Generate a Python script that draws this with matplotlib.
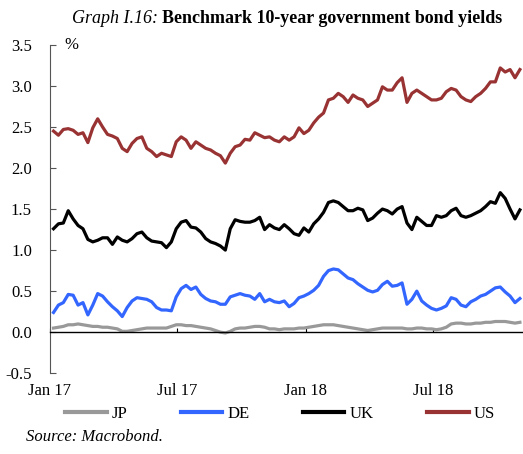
import matplotlib; matplotlib.use("Agg")
import matplotlib.pyplot as plt
import matplotlib.dates as mdates
import pandas as pd

plt.rcParams['font.family'] = ['Liberation Serif', 'DejaVu Serif']

# weekly (Friday) readings, Jan 2017 - early Nov 2018, % yields
weeks = pd.date_range("2017-01-06", "2018-11-02", freq="W-FRI")

us = [2.45, 2.40, 2.47, 2.48, 2.46, 2.41, 2.43, 2.31, 2.49, 2.60,
      2.50, 2.41, 2.39, 2.36, 2.24, 2.20, 2.30, 2.36, 2.38, 2.24,
      2.20, 2.14, 2.18, 2.16, 2.14, 2.32, 2.38, 2.34, 2.24, 2.32,
      2.28, 2.24, 2.22, 2.18, 2.15, 2.06, 2.18, 2.26, 2.28, 2.35,
      2.34, 2.43, 2.40, 2.37, 2.38, 2.34, 2.32, 2.38, 2.34, 2.38,
      2.49, 2.42, 2.46, 2.55, 2.62, 2.67, 2.83, 2.85, 2.91, 2.87,
      2.80, 2.89, 2.85, 2.83, 2.75, 2.79, 2.83, 2.99, 2.95, 2.95,
      3.04, 3.10, 2.80, 2.91, 2.95, 2.91, 2.87, 2.83, 2.83, 2.85,
      2.93, 2.97, 2.95, 2.87, 2.83, 2.81, 2.87, 2.91, 2.97, 3.05,
      3.05, 3.22, 3.17, 3.20, 3.10, 3.20]

uk = [1.26, 1.32, 1.33, 1.48, 1.38, 1.30, 1.26, 1.13, 1.10, 1.12,
      1.15, 1.15, 1.07, 1.16, 1.12, 1.10, 1.14, 1.20, 1.22, 1.15,
      1.11, 1.10, 1.09, 1.03, 1.10, 1.26, 1.34, 1.36, 1.28, 1.27,
      1.22, 1.14, 1.10, 1.08, 1.05, 1.00, 1.26, 1.37, 1.35, 1.34,
      1.34, 1.36, 1.40, 1.25, 1.31, 1.27, 1.25, 1.31, 1.26, 1.20,
      1.18, 1.27, 1.22, 1.32, 1.38, 1.46, 1.58, 1.60, 1.58, 1.53,
      1.48, 1.48, 1.51, 1.49, 1.36, 1.39, 1.45, 1.50, 1.48, 1.44,
      1.50, 1.53, 1.33, 1.25, 1.40, 1.35, 1.30, 1.30, 1.42, 1.40,
      1.42, 1.48, 1.51, 1.42, 1.40, 1.42, 1.45, 1.48, 1.53, 1.59,
      1.57, 1.70, 1.63, 1.50, 1.38, 1.49]

de = [0.24, 0.33, 0.36, 0.46, 0.45, 0.33, 0.36, 0.21, 0.33, 0.47,
      0.44, 0.37, 0.31, 0.26, 0.19, 0.30, 0.38, 0.42, 0.41, 0.40,
      0.37, 0.30, 0.27, 0.27, 0.26, 0.43, 0.53, 0.57, 0.52, 0.55,
      0.46, 0.41, 0.38, 0.37, 0.34, 0.34, 0.43, 0.45, 0.47, 0.45,
      0.44, 0.40, 0.47, 0.37, 0.40, 0.37, 0.36, 0.38, 0.31, 0.35,
      0.42, 0.44, 0.47, 0.51, 0.57, 0.68, 0.75, 0.77, 0.76, 0.71,
      0.66, 0.64, 0.59, 0.55, 0.51, 0.49, 0.51, 0.58, 0.62, 0.56,
      0.57, 0.60, 0.34, 0.40, 0.50, 0.38, 0.33, 0.29, 0.27, 0.29,
      0.32, 0.42, 0.40, 0.33, 0.31, 0.37, 0.40, 0.44, 0.46, 0.50,
      0.54, 0.55, 0.49, 0.44, 0.36, 0.41]

jp = [0.05, 0.06, 0.07, 0.09, 0.09, 0.10, 0.09, 0.08, 0.07, 0.07,
      0.06, 0.06, 0.05, 0.04, 0.01, 0.01, 0.02, 0.03, 0.04, 0.05,
      0.05, 0.05, 0.05, 0.05, 0.07, 0.09, 0.09, 0.08, 0.08, 0.07,
      0.06, 0.05, 0.04, 0.02, 0.00, -0.01, 0.01, 0.04, 0.05, 0.05,
      0.06, 0.07, 0.07, 0.06, 0.04, 0.04, 0.03, 0.04, 0.04, 0.04,
      0.05, 0.05, 0.06, 0.07, 0.08, 0.09, 0.09, 0.09, 0.08, 0.07,
      0.06, 0.05, 0.04, 0.03, 0.02, 0.03, 0.04, 0.05, 0.05, 0.05,
      0.05, 0.05, 0.04, 0.04, 0.05, 0.05, 0.04, 0.04, 0.03, 0.04,
      0.06, 0.10, 0.11, 0.11, 0.10, 0.10, 0.11, 0.11, 0.12, 0.12,
      0.13, 0.13, 0.13, 0.12, 0.11, 0.12]

series = [("JP", jp, "#999999"), ("DE", de, "#3366ff"),
          ("UK", uk, "#000000"), ("US", us, "#993333")]

tick_dates = pd.to_datetime(["2017-01-01", "2017-07-01", "2018-01-01", "2018-07-01"])
tick_labels = ["Jan 17", "Jul 17", "Jan 18", "Jul 18"]
yticks = [-0.5, 0.0, 0.5, 1.0, 1.5, 2.0, 2.5, 3.0, 3.5]

fig = plt.figure(figsize=(5.23, 4.54), dpi=100)
ax = fig.add_axes([0.0956, 0.178, 0.9025, 0.723])

for name, vals, col in series:
    ax.plot(weeks, vals, color=col, lw=2.3, label=name, solid_joinstyle="round")

ax.set_ylim(-0.5, 3.5)
ax.set_xlim(pd.Timestamp("2017-01-01"), pd.Timestamp("2018-11-05"))
ax.set_yticks(yticks)
ax.set_yticklabels([f"{v:.1f}" for v in yticks])
ax.tick_params(axis="y", direction="in", length=4, pad=13, labelsize=12, color="#555555")

# zero line acts as x axis with inward ticks, labels sit below the plot
for s in ["top", "right"]:
    ax.spines[s].set_visible(False)
ax.spines["left"].set_color("#555555")
ax.spines["bottom"].set_position(("data", 0))
ax.spines["bottom"].set_linewidth(1.0)
ax.set_xticks(tick_dates)
ax.tick_params(axis="x", direction="in", length=3, labelbottom=False)

sec = ax.secondary_xaxis(0.0)
sec.set_xticks(mdates.date2num(tick_dates), tick_labels)
sec.spines["bottom"].set_visible(False)
sec.tick_params(axis="x", length=0, pad=7, labelsize=12)

ax.text(0.03, 1.0, "%", transform=ax.transAxes, fontsize=12, va="center", ha="left")

# title: italic label + bold text
t1 = fig.text(0.138, 0.960, "Graph I.16:", fontsize=13, style="italic", va="center", ha="left")
fig.canvas.draw()
bb = t1.get_window_extent(fig.canvas.get_renderer())
fig.text(bb.x1 / fig.bbox.width + 0.008, 0.960, "Benchmark 10-year government bond yields",
         fontsize=13, weight="bold", va="center", ha="left")

fig.legend(loc="center", bbox_to_anchor=(0.535, 0.088), ncol=4, frameon=False,
           fontsize=12, handlelength=2.5, handletextpad=0.3, columnspacing=3.2)
for line in fig.legends[0].get_lines():
    line.set_linewidth(3)

fig.text(0.05, 0.037, "Source: Macrobond.", fontsize=12, style="italic", va="center", ha="left")

fig.savefig("out.png", dpi=100)
